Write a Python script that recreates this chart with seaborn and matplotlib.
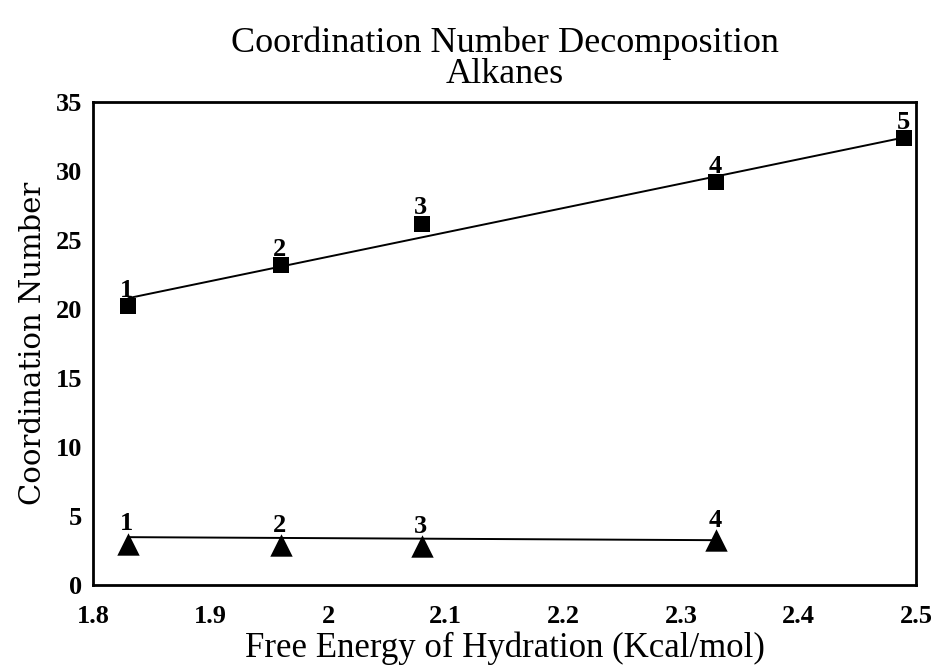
"""Coordination number decomposition vs free energy of hydration (alkanes)."""

import matplotlib
matplotlib.use("Agg")
import matplotlib.pyplot as plt
import seaborn as sns

# Free energy of hydration (Kcal/mol) for the alkanes
FREE_ENERGY_SQ = [1.83, 1.96, 2.08, 2.33, 2.49]
COORD_SQ = [20.2, 23.2, 26.2, 29.2, 32.4]
LABELS_SQ = ["1", "2", "3", "4", "5"]

FREE_ENERGY_TRI = [1.83, 1.96, 2.08, 2.33]
COORD_TRI = [3.0, 2.9, 2.85, 3.25]
LABELS_TRI = ["1", "2", "3", "4"]

# fitted lines as drawn in the original figure
FIT_SQ_X = [1.83, 2.49]
FIT_SQ_Y = [20.8, 32.45]
FIT_TRI_X = [1.83, 2.33]
FIT_TRI_Y = [3.48, 3.26]

X_TICKS = [1.8, 1.9, 2.0, 2.1, 2.2, 2.3, 2.4, 2.5]
X_TICKLABELS = ["1.8", "1.9", "2", "2.1", "2.2", "2.3", "2.4", "2.5"]
Y_TICKS = [0, 5, 10, 15, 20, 25, 30, 35]

sns.set_style("white")
plt.rcParams["font.family"] = ["Liberation Serif", "DejaVu Serif"]
plt.rcParams["text.color"] = "black"
plt.rcParams["axes.labelcolor"] = "black"
plt.rcParams["xtick.color"] = "black"
plt.rcParams["ytick.color"] = "black"

fig = plt.figure(figsize=(9.33, 6.68), dpi=100)
ax = fig.add_axes([0.0997, 0.124, 0.8823, 0.723])

sns.lineplot(x=FIT_SQ_X, y=FIT_SQ_Y, color="black", linewidth=1.4, ax=ax)
sns.lineplot(x=FIT_TRI_X, y=FIT_TRI_Y, color="black", linewidth=1.4, ax=ax)
sns.scatterplot(x=FREE_ENERGY_SQ, y=COORD_SQ, marker="s", s=130,
                color="black", edgecolor="black", linewidth=0, ax=ax, zorder=3)
sns.scatterplot(x=FREE_ENERGY_TRI, y=COORD_TRI, marker="^", s=260,
                color="black", edgecolor="black", linewidth=0, ax=ax, zorder=3)

for xv, yv, lab in zip(FREE_ENERGY_SQ, COORD_SQ, LABELS_SQ):
    ax.annotate(lab, (xv, yv), xytext=(-1, 3), textcoords="offset points",
                ha="center", va="bottom", fontsize=19, fontweight="bold")
for xv, yv, lab in zip(FREE_ENERGY_TRI, COORD_TRI, LABELS_TRI):
    ax.annotate(lab, (xv, yv), xytext=(-1, 6), textcoords="offset points",
                ha="center", va="bottom", fontsize=19, fontweight="bold")

ax.set_xlim(1.8, 2.5)
ax.set_ylim(0, 35)
ax.set_xticks(X_TICKS)
ax.set_xticklabels(X_TICKLABELS)
ax.set_yticks(Y_TICKS)
for lab in ax.get_xticklabels() + ax.get_yticklabels():
    lab.set_fontweight("bold")
    lab.set_fontsize(19)
ax.tick_params(direction="out", length=6, width=1.5, color="black")
ax.tick_params(axis="x", pad=8)
ax.tick_params(axis="y", pad=2)

for sp in ax.spines.values():
    sp.set_visible(True)
    sp.set_color("black")
    sp.set_linewidth(2)

ax.set_xlabel("Free Energy of Hydration (Kcal/mol)", fontsize=25, labelpad=3)
ax.set_ylabel("Coordination Number", fontsize=21, family="DejaVu Serif",
              labelpad=6)
ax.set_title("Coordination Number Decomposition\nAlkanes", fontsize=26,
             linespacing=0.9, pad=14)

plt.savefig("out.png", dpi=100)
plt.close()
